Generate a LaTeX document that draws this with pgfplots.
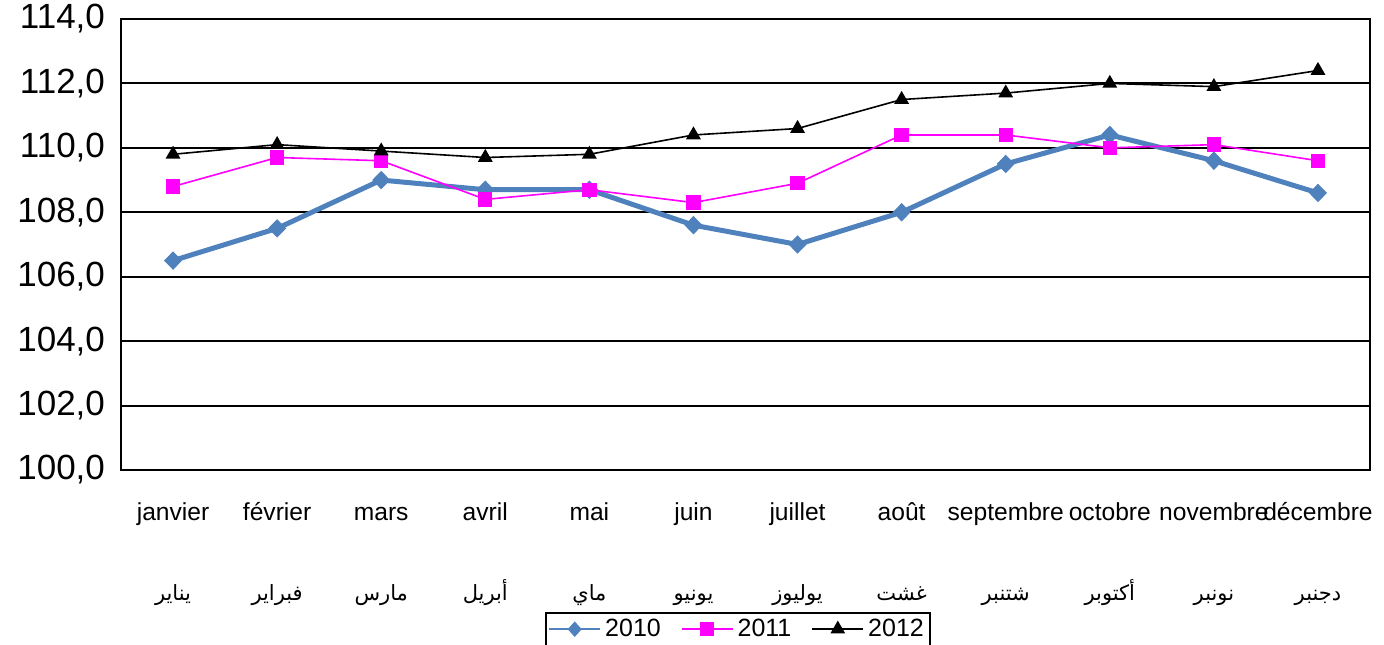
\documentclass[border=0pt]{standalone}
\usepackage{pgfplots}
\pgfplotsset{compat=1.18}
\usepackage{fontspec}
\setmainfont{Liberation Sans}
\newfontfamily\arabicfont[Script=Arabic]{DejaVu Sans}
\TeXXeTstate=1
\definecolor{c2010}{RGB}{79,129,189}
\definecolor{c2011}{RGB}{255,0,255}
\newcommand{\ar}[1]{{\arabicfont\fontsize{10.5}{12}\selectfont\beginR #1\endR}\rule[-4pt]{0pt}{16pt}}
\newcommand{\fr}[1]{#1\strut}
\begin{document}
\begin{tikzpicture}
\begin{axis}[
  scale only axis,
  width=624.5pt, height=225.5pt,
  xmin=-0.5, xmax=11.5,
  ymin=100, ymax=114,
  ytick={100,102,...,114},
  xtick={0,...,11},
  xticklabels={
    \fr{janvier}\\[22.5pt]\ar{يناير},
    \fr{février}\\[22.5pt]\ar{فبراير},
    \fr{mars}\\[22.5pt]\ar{مارس},
    \fr{avril}\\[22.5pt]\ar{أبريل},
    \fr{mai}\\[22.5pt]\ar{ماي},
    \fr{juin}\\[22.5pt]\ar{يونيو},
    \fr{juillet}\\[22.5pt]\ar{يوليوز},
    \fr{août}\\[22.5pt]\ar{غشت},
    \fr{septembre}\\[22.5pt]\ar{شتنبر},
    \fr{octobre}\\[22.5pt]\ar{أكتوبر},
    \fr{novembre}\\[22.5pt]\ar{نونبر},
    \fr{décembre}\\[22.5pt]\ar{دجنبر}},
  xticklabel style={align=center, font=\fontsize{12.3}{14}\selectfont, yshift=-12pt},
  yticklabel style={font=\fontsize{17.5}{19}\selectfont, xshift=-4.5pt},
  y tick label style={/pgf/number format/.cd, fixed, fixed zerofill, precision=1, use comma, assume math mode=true},
  major tick length=0pt,
  ymajorgrids,
  grid style={black, line width=1pt},
  axis line style={black, line width=1pt},
  legend columns=3,
  legend style={at={(0.494,-0.353)}, anchor=center, draw=black, line width=0.8pt,
    font=\fontsize{12.5}{14}\selectfont, inner sep=1pt,
    /tikz/every even column/.append style={column sep=8pt}},
  legend image code/.code={\draw[mark repeat=2,mark phase=2] plot coordinates {(0cm,0cm) (0.45cm,0cm) (0.9cm,0cm)};},
  legend cell align=left,
]
\addlegendimage{c2010, line width=0.9pt, mark=diamond*, mark size=3.5pt, mark options={solid, fill=c2010, line width=0.5pt, xscale=1.2}}
\addlegendentry{2010}
\addplot[c2010, line width=2.5pt, mark=diamond*, mark size=4.25pt, mark options={solid, fill=c2010, line width=0.5pt, xscale=1.3}, forget plot]
  coordinates {(0,106.5) (1,107.5) (2,109.0) (3,108.7) (4,108.7) (5,107.6) (6,107.0) (7,108.0) (8,109.5) (9,110.4) (10,109.6) (11,108.6)};
\addplot[c2011, line width=0.8pt, mark=square*, mark size=3.2pt, mark options={solid, fill=c2011}]
  coordinates {(0,108.8) (1,109.7) (2,109.6) (3,108.4) (4,108.7) (5,108.3) (6,108.9) (7,110.4) (8,110.4) (9,110.0) (10,110.1) (11,109.6)};
\addlegendentry{2011}
\addplot[black, line width=0.8pt, mark=triangle*, mark size=3.5pt, mark options={solid, fill=black}]
  coordinates {(0,109.8) (1,110.1) (2,109.9) (3,109.7) (4,109.8) (5,110.4) (6,110.6) (7,111.5) (8,111.7) (9,112.0) (10,111.9) (11,112.4)};
\addlegendentry{2012}
\coordinate (sw) at (rel axis cs:0,0);
\coordinate (ne) at (rel axis cs:1,1);
\end{axis}
\pgfresetboundingbox
\path[use as bounding box] ([shift={(-60.5pt,-87.5pt)}]sw) rectangle ([shift={(7pt,9.5pt)}]ne);
\end{tikzpicture}
\end{document}
